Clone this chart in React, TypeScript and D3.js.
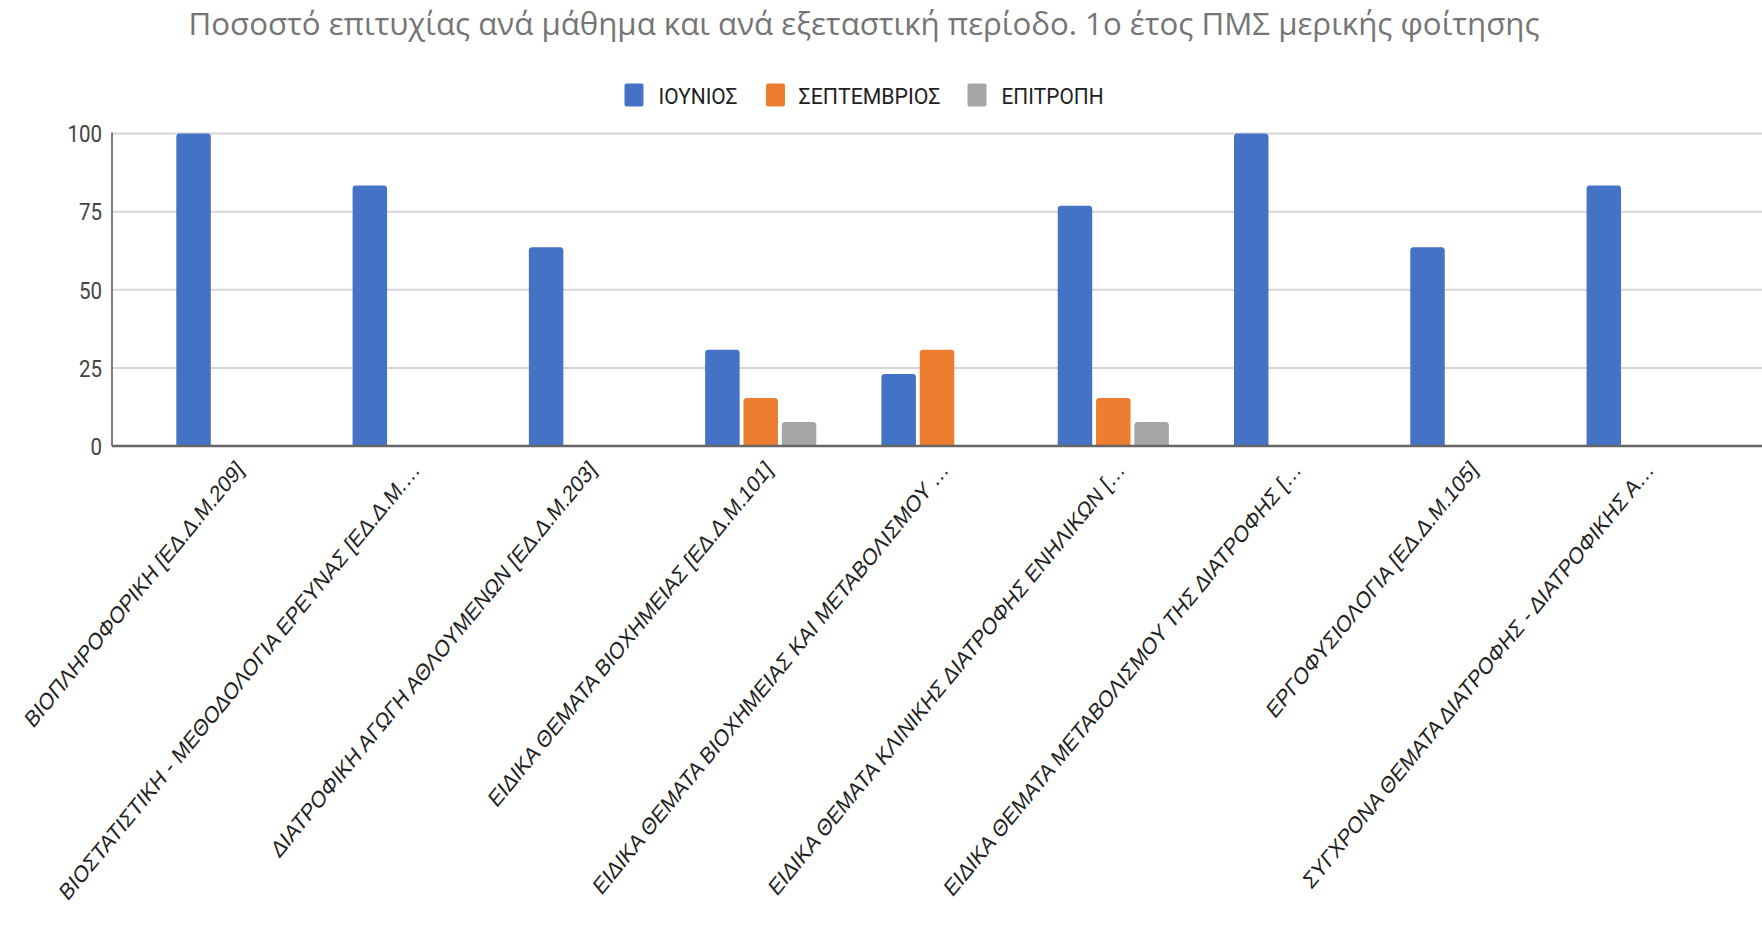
import React from "react";
import * as d3 from "d3";

const title = "Ποσοστό επιτυχίας ανά μάθημα και ανά εξεταστική περίοδο. 1ο έτος ΠΜΣ μερικής φοίτησης";

const categories = [
  "ΒΙΟΠΛΗΡΟΦΟΡΙΚΗ [ΕΔ.Δ.Μ.209]",
  "ΒΙΟΣΤΑΤΙΣΤΙΚΗ - ΜΕΘΟΔΟΛΟΓΙΑ ΕΡΕΥΝΑΣ [ΕΔ.Δ.Μ.…",
  "ΔΙΑΤΡΟΦΙΚΗ ΑΓΩΓΗ ΑΘΛΟΥΜΕΝΩΝ [ΕΔ.Δ.Μ.203]",
  "ΕΙΔΙΚΑ ΘΕΜΑΤΑ ΒΙΟΧΗΜΕΙΑΣ [ΕΔ.Δ.Μ.101]",
  "ΕΙΔΙΚΑ ΘΕΜΑΤΑ ΒΙΟΧΗΜΕΙΑΣ ΚΑΙ ΜΕΤΑΒΟΛΙΣΜΟΥ …",
  "ΕΙΔΙΚΑ ΘΕΜΑΤΑ ΚΛΙΝΙΚΗΣ ΔΙΑΤΡΟΦΗΣ ΕΝΗΛΙΚΩΝ […",
  "ΕΙΔΙΚΑ ΘΕΜΑΤΑ ΜΕΤΑΒΟΛΙΣΜΟΥ ΤΗΣ ΔΙΑΤΡΟΦΗΣ […",
  "ΕΡΓΟΦΥΣΙΟΛΟΓΙΑ [ΕΔ.Δ.Μ.105]",
  "ΣΥΓΧΡΟΝΑ ΘΕΜΑΤΑ ΔΙΑΤΡΟΦΗΣ - ΔΙΑΤΡΟΦΙΚΗΣ Α…",
];

const seriesNames = ["ΙΟΥΝΙΟΣ", "ΣΕΠΤΕΜΒΡΙΟΣ", "ΕΠΙΤΡΟΠΗ"];
const seriesColors = ["#4472c4", "#ed7d31", "#a5a5a5"];

const june: (number | null)[] = [100, 83.33, 63.64, 30.77, 23.08, 76.92, 100, 63.64, 83.33];
const september: (number | null)[] = [null, null, null, 15.38, 30.77, 15.38, null, null, null];
const committee: (number | null)[] = [null, null, null, 7.69, null, 7.69, null, null, null];

const seriesValues = [june, september, committee];
const yTicks = [0, 25, 50, 75, 100];

const W = 1762;
const H = 925;
const SY = 1.2; // vertical stretch of the reference picture
const SYL = 1.22;

export default function App() {
  const x = d3.scaleBand<string>().domain(categories).range([112, 1762]).paddingInner(0).paddingOuter(0.18);
  const xs = d3
    .scaleBand<string>()
    .domain(seriesNames)
    .range([0, x.bandwidth()])
    .paddingInner(0.1)
    .paddingOuter(0.85);
  const y = d3.scaleLinear().domain([0, 100]).range([446, 133.5]);

  const barPath = (x0: number, w: number, yTop: number, yBot: number) => {
    const r = 3;
    const ry = 3.6;
    return `M${x0},${yBot}V${yTop + ry}Q${x0},${yTop} ${x0 + r},${yTop}H${x0 + w - r}Q${x0 + w},${yTop} ${x0 + w},${yTop + ry}V${yBot}Z`;
  };

  const legendItems = [
    { sq: 624.5, tx: 658.5, tl: 79 },
    { sq: 766, tx: 798.5, tl: 142 },
    { sq: 967.5, tx: 1001.5, tl: 102 },
  ];

  return (
    <svg
      width={W}
      height={H}
      style={{ position: "absolute", left: 0, top: 0, background: "#fff" }}
      xmlns="http://www.w3.org/2000/svg"
    >
      <rect x={0} y={0} width={W} height={H} fill="#fff" />
      {/* title */}
      <g transform={`translate(864,35) scale(1,${SY})`}>
        <text
          textAnchor="middle"
          fontFamily="Open Sans"
          fontSize={26}
          fill="#757575"
          textLength={1351}
          lengthAdjust="spacingAndGlyphs"
        >
          {title}
        </text>
      </g>
      {/* legend */}
      {seriesNames.map((s, i) => (
        <g key={s}>
          <rect x={legendItems[i].sq} y={83.5} width={19} height={23} rx={2} fill={seriesColors[i]} />
          <g transform={`translate(${legendItems[i].tx},104) scale(1,${SY})`}>
            <text
              fontFamily="Roboto"
              fontSize={19}
              fill="#222"
              textLength={legendItems[i].tl}
              lengthAdjust="spacingAndGlyphs"
            >
              {s}
            </text>
          </g>
        </g>
      ))}
      {/* gridlines */}
      {yTicks.map((t) =>
        t === 0 ? null : (
          <line key={t} x1={112} x2={W} y1={y(t)} y2={y(t)} stroke="#d6d6d6" strokeWidth={2} />
        )
      )}
      {/* y tick labels */}
      {yTicks.map((t) => (
        <g key={t} transform={`translate(102,${y(t)}) scale(1,${SY})`}>
          <text textAnchor="end" dy="0.36em" fontFamily="Roboto" fontSize={20.5} fill="#444">
            {t}
          </text>
        </g>
      ))}
      {/* bars */}
      {categories.map((c, ci) =>
        seriesValues.map((vals, si) => {
          const v = vals[ci];
          if (v == null) return null;
          const x0 = (x(c) as number) + (xs(seriesNames[si]) as number);
          return <path key={c + si} d={barPath(x0, xs.bandwidth(), y(v), y(0))} fill={seriesColors[si]} />;
        })
      )}
      {/* axes */}
      <line x1={112} x2={112} y1={y(100) - 1} y2={y(0)} stroke="#555" strokeWidth={1.5} />
      <line x1={112} x2={W} y1={y(0)} y2={y(0)} stroke="#666" strokeWidth={2.5} />
      {/* x labels */}
      {categories.map((c) => {
        const cx = (x(c) as number) + x.bandwidth() / 2;
        return (
          <g key={c} transform={`translate(${cx + 8},465) scale(1,${SYL}) rotate(-45)`}>
            <text textAnchor="end" dy="0.35em" fontFamily="Liberation Sans, Arial" fontSize={19.5} fill="#222">
              {c}
            </text>
          </g>
        );
      })}
    </svg>
  );
}
